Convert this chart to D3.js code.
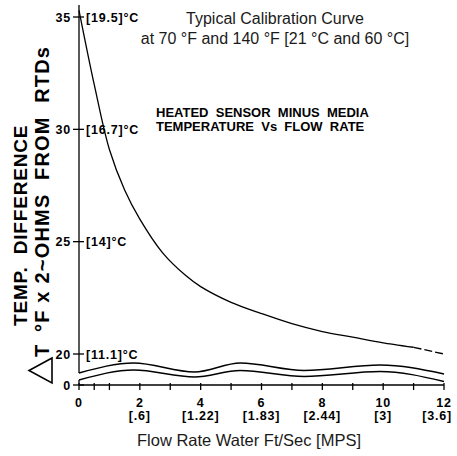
<!DOCTYPE html>
<html>
<head>
<meta charset="utf-8">
<script src="https://cdn.jsdelivr.net/npm/d3@7"></script>
<style>
  html, body { margin: 0; padding: 0; background: #fff; }
  svg { display: block; }
  .tick-lbl { font-family: "Liberation Sans", Arial, sans-serif; font-weight: bold; font-size: 12.5px; letter-spacing: 0.8px; }
</style>
</head>
<body>
<div id="chart"></div>
<script>
// calibration curve
const flowRate = [0, 0.5, 1, 1.5, 2, 2.75, 3.5, 4, 5, 6, 7, 8, 9, 10, 11, 12];
const tempDiff = [35.3, 32.0, 29.1, 27.3, 26.0, 24.5, 23.5, 23.0, 22.3, 21.8, 21.35, 21.0, 20.75, 20.5, 20.3, 20.0];
const dashedFrom = 11; // extrapolated part drawn dashed

// axis-break band (the two wavy lines)
const waveX = [0, 1.8, 3.8, 5.3, 7.4, 9.9, 12];
const waveUpper = [7.7, 14.2, 8.4, 14.2, 9.4, 12.9, 7.1];
const waveLower = [3.2, 9.7, 5.2, 9.4, 5.5, 8.7, 2.3];

const yTicks = [0, 20, 25, 30, 35];
const yTickCelsius = ["", "[11.1]°C", "[14]°C", "[16.7]°C", "[19.5]°C"];
const xMajor = [0, 2, 4, 6, 8, 10, 12];
const xMetric = ["", "[.6]", "[1.22]", "[1.83]", "[2.44]", "[3]", "[3.6]"];
const xMinor = [0.5, 1, 3, 5, 7, 9, 11];

const width = 457, height = 456;

const svg = d3.select("#chart").append("svg")
  .attr("width", width)
  .attr("height", height);

// y is broken between 0 and 20
const x = d3.scaleLinear().domain([0, 12]).range([79, 444]);
const y = d3.scaleLinear().domain([0, 20, 35]).range([385, 354, 17]);

const ink = "#000";

// titles
svg.append("text")
  .attr("x", 275).attr("y", 24)
  .attr("text-anchor", "middle")
  .attr("font-family", "Liberation Sans, Arial, sans-serif")
  .attr("font-size", 16).attr("fill", "#1a1a1a")
  .text("Typical Calibration Curve");
svg.append("text")
  .attr("x", 275).attr("y", 44)
  .attr("text-anchor", "middle")
  .attr("font-family", "Liberation Sans, Arial, sans-serif")
  .attr("font-size", 16).attr("fill", "#1a1a1a")
  .text("at 70 °F and 140 °F [21 °C and 60 °C]");

const note = svg.append("text")
  .attr("font-family", "Liberation Sans, Arial, sans-serif")
  .attr("font-weight", "bold").attr("font-size", 13)
  .style("white-space", "pre");
note.append("tspan").attr("x", 156).attr("y", 117).text("HEATED  SENSOR  MINUS  MEDIA");
note.append("tspan").attr("x", 156).attr("y", 131).text("TEMPERATURE  Vs  FLOW  RATE");

// y axis line, interrupted by the break band
const yAxis = svg.append("g").attr("stroke", ink).attr("stroke-width", 1.3);
yAxis.append("line").attr("x1", x(0)).attr("x2", x(0)).attr("y1", 5).attr("y2", y(waveUpper[0]));
yAxis.append("line").attr("x1", x(0)).attr("x2", x(0)).attr("y1", y(waveLower[0])).attr("y2", y(0));

yAxis.selectAll(".yt").data(yTicks).join("line")
  .attr("x1", x(0) - 6).attr("x2", x(0) + 5)
  .attr("y1", d => y(d)).attr("y2", d => y(d));

svg.selectAll(".ylbl").data(yTicks).join("text")
  .attr("class", "tick-lbl")
  .attr("x", 71).attr("y", d => y(d) + 4.5)
  .attr("text-anchor", "end")
  .text(d => d);

svg.selectAll(".ycel").data(yTicks).join("text")
  .attr("class", "tick-lbl")
  .attr("x", 86).attr("y", d => y(d) + 4.5)
  .text((d, i) => yTickCelsius[i]);

// x axis
const xAxis = svg.append("g").attr("stroke", ink).attr("stroke-width", 1.3);
xAxis.append("line").attr("x1", x(0)).attr("x2", x(12)).attr("y1", y(0)).attr("y2", y(0));
xAxis.selectAll(".xt").data(xMajor.concat(xMinor)).join("line")
  .attr("x1", d => x(d)).attr("x2", d => x(d))
  .attr("y1", y(0) - 2).attr("y2", y(0) + 5);

svg.selectAll(".xlbl").data(xMajor).join("text")
  .attr("class", "tick-lbl")
  .attr("x", d => x(d)).attr("y", 407)
  .attr("text-anchor", "middle")
  .text(d => d);

svg.selectAll(".xmet").data(xMajor).join("text")
  .attr("class", "tick-lbl")
  .attr("x", d => x(d)).attr("y", 420)
  .attr("text-anchor", "middle")
  .text((d, i) => xMetric[i])
  .each(function() {
    // keep the last label inside the frame
    const w = this.getComputedTextLength();
    const cx = +this.getAttribute("x");
    this.setAttribute("x", Math.min(cx, width - 5 - w / 2));
  });

svg.append("text")
  .attr("x", 249).attr("y", 446)
  .attr("text-anchor", "middle")
  .attr("font-family", "Liberation Sans, Arial, sans-serif")
  .attr("font-size", 16.5).attr("fill", "#1a1a1a")
  .text("Flow Rate Water Ft/Sec [MPS]");

// rotated y axis title
const yTitle = svg.append("text")
  .attr("transform", "rotate(-90)")
  .attr("font-family", "Liberation Sans, Arial, sans-serif")
  .attr("font-weight", "bold")
  .style("white-space", "pre");
yTitle.append("tspan")
  .attr("x", -326).attr("y", 27)
  .attr("font-size", 19).attr("letter-spacing", 0.8)
  .text("TEMP.  DIFFERENCE");
const yTitle2 = svg.append("text")
  .attr("transform", "rotate(-90)")
  .attr("font-family", "Liberation Sans, Arial, sans-serif")
  .attr("font-weight", "bold")
  .attr("font-size", 20).attr("letter-spacing", 1.2)
  .style("white-space", "pre");
yTitle2.append("tspan").attr("x", -357).attr("y", 49).text("T");
yTitle2.append("tspan").attr("x", -332).attr("y", 49).text("°F x 2~OHMS  FROM  RTDs");

// delta sign (triangle turned with the title)
svg.append("path")
  .attr("d", "M52,358 L29,370.5 L52,383 Z")
  .attr("fill", "none").attr("stroke", ink).attr("stroke-width", 1.6);

// curves
const line = d3.line()
  .x(d => x(d[0]))
  .y(d => y(d[1]))
  .curve(d3.curveCatmullRom.alpha(0.5));

const pts = flowRate.map((f, i) => [f, tempDiff[i]]);
svg.append("path")
  .attr("d", line(pts.filter(p => p[0] <= dashedFrom)))
  .attr("fill", "none").attr("stroke", ink).attr("stroke-width", 1.3);
svg.append("path")
  .attr("d", line(pts.filter(p => p[0] >= dashedFrom)))
  .attr("fill", "none").attr("stroke", ink).attr("stroke-width", 1.3)
  .attr("stroke-dasharray", "8,3");

const wave = d3.line()
  .x(d => x(d[0]))
  .y(d => y(d[1]))
  .curve(d3.curveMonotoneX);
[waveUpper, waveLower].forEach(vals => {
  svg.append("path")
    .attr("d", wave(waveX.map((w, i) => [w, vals[i]])))
    .attr("fill", "none").attr("stroke", ink).attr("stroke-width", 1.5);
});
</script>
</body>
</html>
